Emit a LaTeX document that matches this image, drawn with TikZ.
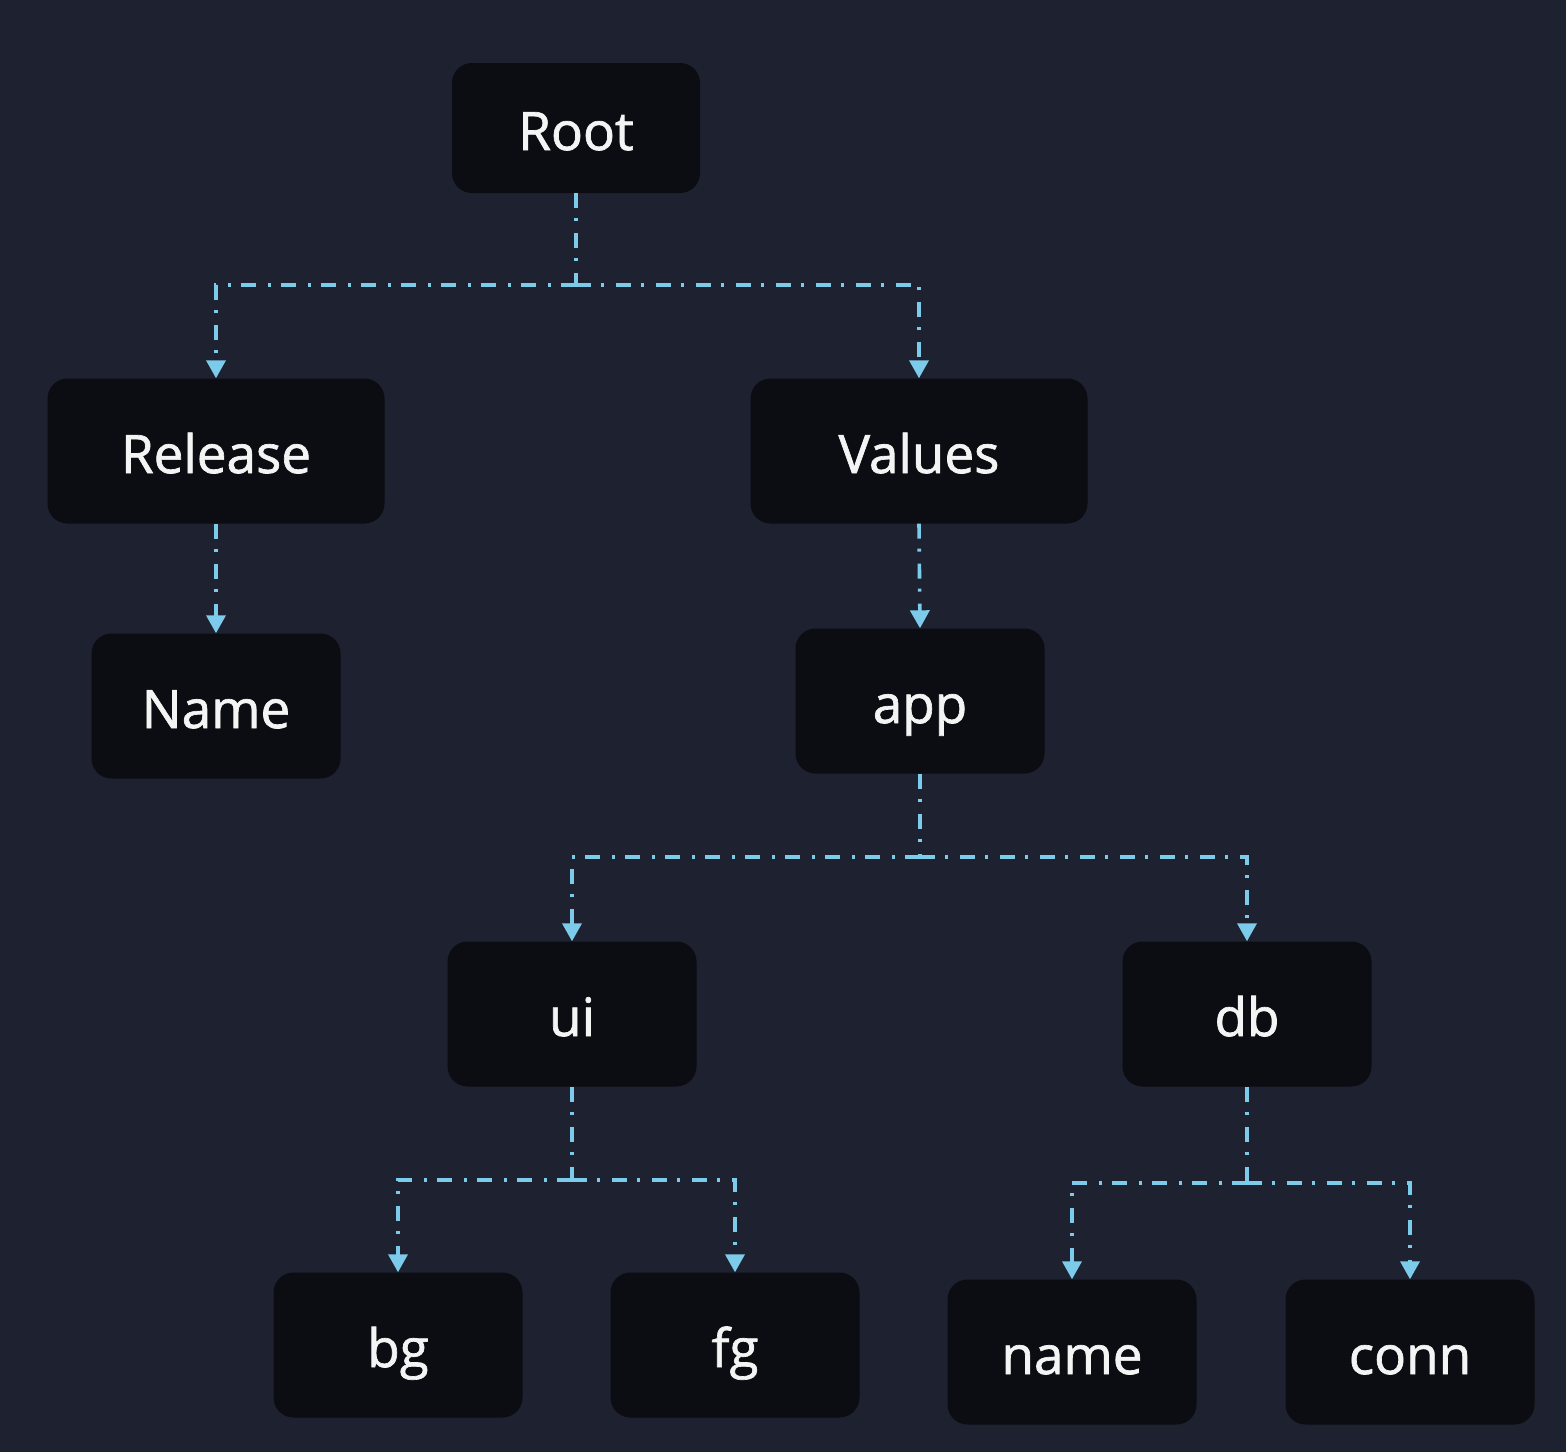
\documentclass[tikz,border=0pt]{standalone}
\usepackage{fontspec}
\setmainfont{Open Sans}
\usetikzlibrary{arrows.meta}
\definecolor{bgc}{HTML}{1E2130}
\definecolor{boxc}{HTML}{0B0D12}
\definecolor{linec}{HTML}{7CCBEA}
\definecolor{txtc}{HTML}{F4F4F4}
\tikzset{
  box/.style={draw=none, fill=boxc, rounded corners=20pt, inner sep=0pt,
    minimum width=249pt, minimum height=145pt, text=txtc,
    font=\fontsize{53}{60}\selectfont\addfontfeature{FakeBold=1.3},
    text height=50pt, text depth=6pt},
  wide/.style={minimum width=337pt},
  link/.style={draw=linec, line width=3.6pt,
    dash pattern=on 15pt off 10pt on 3pt off 12pt,
    -{Triangle[width=19pt,length=18pt]}},
  plain/.style={draw=linec, line width=3.6pt,
    dash pattern=on 15pt off 10pt on 3pt off 12pt}
}
\begin{document}
\begin{tikzpicture}[x=1pt,y=-1pt]
\fill[bgc] (0,0) rectangle (1566,1452);
\useasboundingbox (0,0) rectangle (1566,1452);

\node[box, minimum width=248pt, minimum height=130pt] (root) at (576,128) {Root};
\node[box, wide] (rel) at (216,451) {Release};
\node[box, wide] (val) at (919,451) {Values};
\node[box] (nm) at (216,706) {Name};
\node[box] (app) at (920,701) {app};
\node[box] (ui) at (572,1014) {ui};
\node[box] (db) at (1247,1014) {db};
\node[box] (bg) at (398,1345) {bg};
\node[box] (fg) at (735,1345) {fg};
\node[box] (name) at (1072,1352) {name};
\node[box] (conn) at (1410,1352) {conn};

\coordinate (j1) at (576,285);
\coordinate (j2) at (920,857);
\coordinate (j3) at (572,1180);
\coordinate (j4) at (1247,1183);

\draw[plain] (root.south) -- (j1);
\draw[link] (j1) -| (rel.north);
\draw[link] (j1) -| (val.north);
\draw[link] (rel.south) -- (nm.north);
\draw[link] (val.south) -- (app.north);
\draw[plain] (app.south) -- (j2);
\draw[link] (j2) -| (ui.north);
\draw[link] (j2) -| (db.north);
\draw[plain] (ui.south) -- (j3);
\draw[link] (j3) -| (bg.north);
\draw[link] (j3) -| (fg.north);
\draw[plain] (db.south) -- (j4);
\draw[link] (j4) -| (name.north);
\draw[link] (j4) -| (conn.north);
\end{tikzpicture}
\end{document}
